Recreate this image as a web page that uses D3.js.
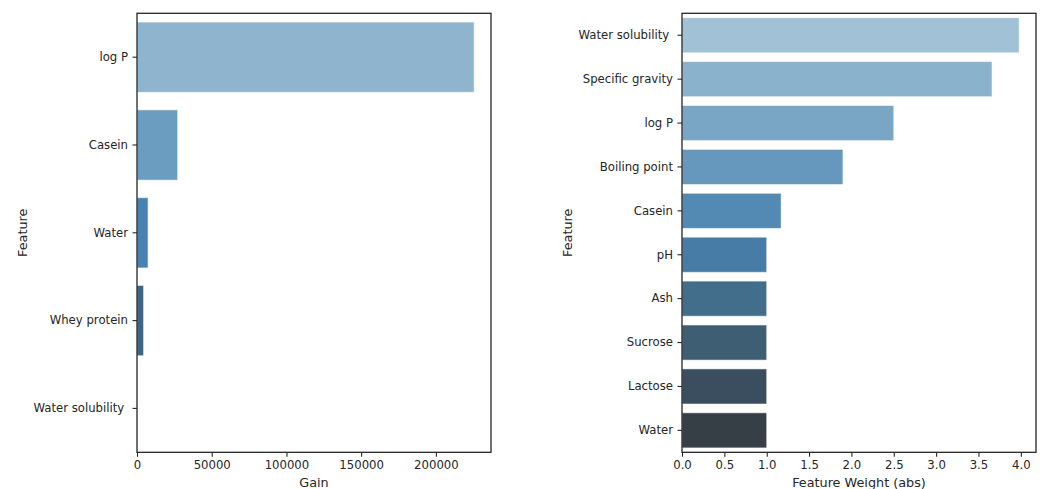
<!DOCTYPE html>
<html>
<head>
<meta charset="utf-8">
<script src="https://cdn.jsdelivr.net/npm/d3@7"></script>
<style>
  html, body { margin: 0; padding: 0; background: #fff; }
  svg { display: block; font-family: "DejaVu Sans", sans-serif; }
  .tick text { white-space: pre; }
</style>
</head>
<body>
<svg id="chart" width="1044" height="489"></svg>
<script>
// Gain importance per feature (left panel)
const gainFeatures = ["log P", "Casein", "Water", "Whey protein", "Water solubility "];
const gainValues = [225600, 27200, 7400, 4400, 0];
const gainColors = ["#8fb4ce", "#6b9dc0", "#4882b2", "#3e6583", "#373f46"];
const gainTicks = [0, 50000, 100000, 150000, 200000];

// Absolute feature weights (right panel)
const weightFeatures = ["Water solubility ", "Specific gravity", "log P", "Boiling point", "Casein",
                        "pH", "Ash", "Sucrose", "Lactose", "Water"];
const weightValues = [3.98, 3.66, 2.50, 1.90, 1.17, 1.0, 1.0, 1.0, 1.0, 1.0];
const weightColors = ["#a0c1d6", "#8bb2cd", "#7aa6c5", "#6698be", "#528ab4",
                      "#467ca5", "#426e8c", "#3e5e74", "#3a4e5f", "#373f46"];
const weightTicks = [0, 0.5, 1.0, 1.5, 2.0, 2.5, 3.0, 3.5, 4.0];

const svg = d3.select("#chart");
const ink = "#262626";
const tickFont = 11.7;
const labelFont = 12.8;

function panel(opts) {
  const { left, right, top, bottom, cats, vals, colors, ticks, fmt, xLabel, yLabelX } = opts;
  const g = svg.append("g");

  const x = d3.scaleLinear()
    .domain([0, d3.max(vals) * 1.05])
    .range([left, right]);
  const y = d3.scaleBand()
    .domain(cats)
    .range([top, bottom])
    .paddingInner(0.2)
    .paddingOuter(0.1);

  // bars
  g.append("g").selectAll("rect")
    .data(cats.map((c, i) => ({ c, v: vals[i], col: colors[i] })))
    .join("rect")
    .attr("x", x(0))
    .attr("y", d => y(d.c))
    .attr("width", d => x(d.v) - x(0))
    .attr("height", y.bandwidth())
    .attr("fill", d => d.col)
    .attr("stroke", "rgba(255,255,255,0.55)")
    .attr("stroke-width", 1);

  // x axis
  const xa = g.append("g")
    .attr("transform", `translate(0,${bottom})`)
    .call(d3.axisBottom(x).tickValues(ticks).tickFormat(fmt)
      .tickSize(4.5).tickPadding(4).tickSizeOuter(0));
  // y axis
  const ya = g.append("g")
    .attr("transform", `translate(${left},0)`)
    .call(d3.axisLeft(y).tickSize(4.5).tickPadding(4.5).tickSizeOuter(0));

  [xa, ya].forEach(a => {
    a.select(".domain").remove();
    a.selectAll(".tick line").attr("stroke", ink).attr("stroke-width", 1.1);
    a.selectAll(".tick text").attr("fill", ink)
      .style("font-size", tickFont + "px")
      .style("font-family", "DejaVu Sans, sans-serif");
  });

  // frame
  g.append("rect")
    .attr("x", left).attr("y", top)
    .attr("width", right - left).attr("height", bottom - top)
    .attr("fill", "none").attr("stroke", ink).attr("stroke-width", 1.3);

  // axis titles
  g.append("text")
    .attr("x", (left + right) / 2).attr("y", 486.5)
    .attr("text-anchor", "middle").attr("fill", ink)
    .style("font-size", labelFont + "px")
    .text(xLabel);
  g.append("text")
    .attr("transform", `translate(${yLabelX},${(top + bottom) / 2}) rotate(-90)`)
    .attr("text-anchor", "middle").attr("fill", ink)
    .style("font-size", labelFont + "px")
    .text("Feature");
}

panel({
  left: 137, right: 491, top: 13.3, bottom: 452.3,
  cats: gainFeatures, vals: gainValues, colors: gainColors,
  ticks: gainTicks, fmt: d3.format("d"), xLabel: "Gain", yLabelX: 26.5
});

panel({
  left: 682, right: 1036, top: 13.3, bottom: 452.3,
  cats: weightFeatures, vals: weightValues, colors: weightColors,
  ticks: weightTicks, fmt: d3.format(".1f"), xLabel: "Feature Weight (abs)", yLabelX: 571.5
});
</script>
</body>
</html>
